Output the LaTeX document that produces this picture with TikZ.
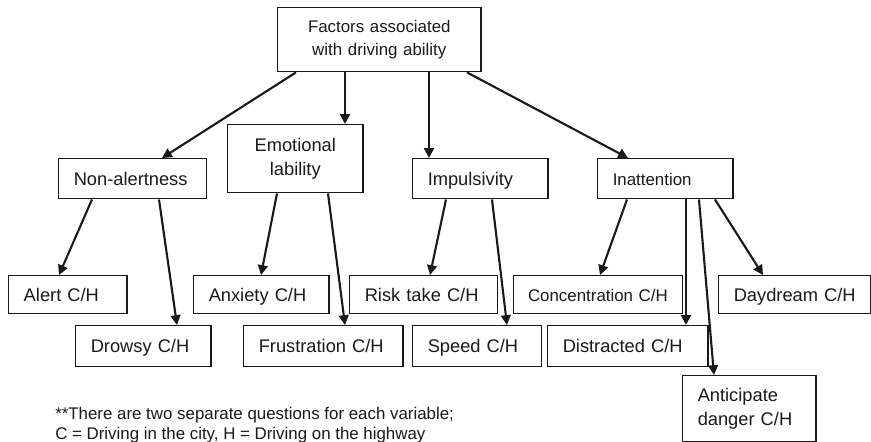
\documentclass[tikz,border=0pt]{standalone}
\usepackage{fontspec}
\setmainfont{Liberation Sans}
\usetikzlibrary{positioning}
\usetikzlibrary{calc}
\usetikzlibrary{arrows.meta}

\begin{document}
\begin{tikzpicture}[
    x=0.025cm, y=-0.025cm,
    color=black!90,
    box/.style={rectangle, draw, line width=1pt, anchor=north west, inner xsep=10.7pt, inner ysep=0pt, align=left, font=\fontsize{13}{17}\selectfont},
    small/.style={font=\fontsize{12}{17}\selectfont},
    oneline/.style={text height=11pt, text depth=1.7pt},
    arr/.style={-{Triangle[length=7pt,width=7pt]}, line width=1.5pt}
    ]
\useasboundingbox (0,0) rectangle (871,442);

% top
\node[box, small, align=center, text width=123.1pt, minimum height=45.5pt] (root) at (277,7) {Factors associated\\[-0.5pt]with driving ability};

% second level
\node[box, oneline, text width=83.9pt, minimum height=28.5pt] (nonal) at (58,158) {Non-alertness};
\node[box, align=center, text width=74.7pt, minimum height=48.4pt] (emot) at (227,124) {Emotional\\lability};
\node[box, oneline, text width=74.7pt, minimum height=28.5pt] (impul) at (412,158) {Impulsivity};
\node[box, small, oneline, text width=74.7pt, minimum height=28.5pt] (inatt) at (597,158) {Inattention};

% variables, first row
\node[box, oneline, text width=62.6pt, minimum height=27pt] (alert) at (8,275) {Alert C/H};
\node[box, oneline, text width=74.7pt, minimum height=27pt] (anx) at (193,275) {Anxiety C/H};
\node[box, oneline, text width=83.9pt, minimum height=27pt] (risk) at (349,275) {Risk take C/H};
\node[box, small, oneline, inner xsep=10.2pt, text width=99.8pt, minimum height=27pt] (conc) at (513,275) {Concentration C/H};
\node[box, oneline, text width=86.8pt, minimum height=27pt] (day) at (718,275) {Daydream C/H};

% variables, second row
\node[box, oneline, text width=74.7pt, minimum height=29.2pt] (drowsy) at (75,325) {Drowsy C/H};
\node[box, oneline, text width=91.8pt, minimum height=29.2pt] (frust) at (243,325) {Frustration C/H};
\node[box, oneline, text width=70.4pt, minimum height=29.2pt] (speed) at (412,325) {Speed C/H};
\node[box, oneline, text width=92.5pt, minimum height=29.2pt] (distr) at (547,325) {Distracted C/H};
\node[box, text width=73.3pt, minimum height=46.9pt] (antic) at (682,375) {Anticipate\\danger C/H};

\draw[arr] ($(root.south west)+(19,0)$) -- ($(nonal.north west)+(104,0)$);
\draw[arr] ($(root.south west)+(68,0)$) -- ($(emot.north west)+(118,0)$);
\draw[arr] ($(root.south west)+(152,0)$) -- ($(impul.north west)+(17,0)$);
\draw[arr] ($(root.south west)+(190,0)$) -- ($(inatt.north west)+(31,0)$);

\draw[arr] ($(nonal.south west)+(34,0)$) -- ($(alert.north west)+(51,0)$);
\draw[arr] ($(nonal.south west)+(101,0)$) -- ($(drowsy.north west)+(102,0)$);
\draw[arr] ($(emot.south west)+(50,0)$) -- ($(anx.north west)+(68,0)$);
\draw[arr] ($(emot.south west)+(101,0)$) -- ($(frust.north west)+(102,0)$);
\draw[arr] ($(impul.south west)+(34,0)$) -- ($(risk.north west)+(81,0)$);
\draw[arr] ($(impul.south west)+(80,0)$) -- ($(speed.north west)+(95,0)$);
\draw[arr] ($(inatt.south west)+(30,0)$) -- ($(conc.north west)+(87,0)$);
\draw[arr] ($(inatt.south west)+(89,0)$) -- ($(distr.north west)+(139,0)$);
\draw[arr] ($(inatt.south west)+(102,0)$) -- ($(antic.north west)+(32,0)$);
\draw[arr] ($(inatt.south west)+(118,0)$) -- ($(day.north west)+(45,0)$);

\node[anchor=base west, align=left, inner sep=0pt, font=\fontsize{12}{14.2}\selectfont] (note) at (55,439) {**There are two separate questions for each variable;\\C = Driving in the city, H = Driving on the highway};

\end{tikzpicture}
\end{document}
